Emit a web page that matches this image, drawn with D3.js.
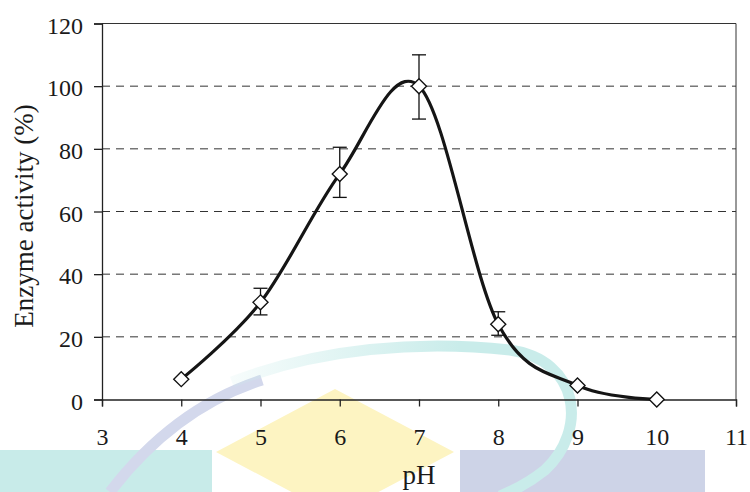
<!DOCTYPE html>
<html>
<head>
<meta charset="utf-8">
<script src="https://cdn.jsdelivr.net/npm/d3@7"></script>
<style>
  body { margin: 0; background: #fff; }
  svg text { font-family: "Liberation Serif", "Times New Roman", serif; fill: #1a1a1a; }
</style>
</head>
<body>
<div class="board"></div>
<script>
// chart data
const phValues = [4, 5, 6, 7, 8, 9, 10];
const activity = [6.5, 31, 72, 100, 24, 4.5, 0];
const errLow  = [null, 27, 64.5, 89.5, 20.5, null, null];
const errHigh = [null, 35.5, 80.5, 110, 28, null, null];
const xTicks = [3, 4, 5, 6, 7, 8, 9, 10, 11];
const yTicks = [0, 20, 40, 60, 80, 100, 120];

const width = 750;
const height = 492;

const svg = d3.select(".board")
  .append("svg")
  .attr("width", width)
  .attr("height", height);

// faint logo watermark behind the chart
const defs = svg.append("defs");
const tealGrad = defs.append("linearGradient")
  .attr("id", "tealFade")
  .attr("gradientUnits", "userSpaceOnUse")
  .attr("x1", 230).attr("y1", 0).attr("x2", 460).attr("y2", 0);
tealGrad.append("stop").attr("offset", 0).attr("stop-color", "#c9ecea").attr("stop-opacity", 0.15);
tealGrad.append("stop").attr("offset", 1).attr("stop-color", "#c9ecea").attr("stop-opacity", 1);

const wm = svg.append("g").attr("class", "watermark");
wm.append("rect").attr("x", 0).attr("y", 450).attr("width", 212).attr("height", 42).attr("fill", "#c8ebe9");
wm.append("rect").attr("x", 460).attr("y", 450).attr("width", 245).attr("height", 42).attr("fill", "#cdd3e7");
wm.append("path").attr("d", "M216,452 L335,389 L454,452 L335,515 Z").attr("fill", "#fdf4c2");
wm.append("path")
  .attr("d", "M110,492 C150,440 200,400 262,380")
  .attr("fill", "none").attr("stroke", "#d3d8ec").attr("stroke-width", 11);
wm.append("path")
  .attr("d", "M232,382 C320,348 420,340 510,350 C580,360 588,430 545,470 C530,482 515,490 500,496")
  .attr("fill", "none").attr("stroke", "url(#tealFade)").attr("stroke-width", 11);

const x = d3.scaleLinear().domain([3, 11]).range([102, 736]);
const y = d3.scaleLinear().domain([0, 120]).range([399.5, 23.5]);

// dashed gridlines
svg.append("g")
  .selectAll("line")
  .data(yTicks.filter(d => d > 0 && d < 120))
  .enter()
  .append("line")
  .attr("x1", x(3)).attr("x2", x(11))
  .attr("y1", d => y(d)).attr("y2", d => y(d))
  .attr("stroke", "#333")
  .attr("stroke-width", 1)
  .attr("stroke-dasharray", "8,6");

// top and right frame
svg.append("path")
  .attr("d", `M${x(3)},${y(120)} H${x(11)} V${y(0)}`)
  .attr("fill", "none")
  .attr("stroke", "#333")
  .attr("stroke-width", 1);

// axes
const xAxis = svg.append("g")
  .attr("transform", `translate(0,${y(0)})`)
  .call(d3.axisBottom(x).tickValues(xTicks).tickSize(7).tickPadding(21).tickFormat(d3.format("d")));
const yAxis = svg.append("g")
  .attr("transform", `translate(${x(3)},0)`)
  .call(d3.axisLeft(y).tickValues(yTicks).tickSize(8).tickPadding(11).tickFormat(d3.format("d")));

[xAxis, yAxis].forEach(function(a) {
  a.select(".domain").attr("stroke", "#222").attr("stroke-width", 1.3);
  a.selectAll(".tick line").attr("stroke", "#222").attr("stroke-width", 1.3);
  a.selectAll(".tick text").style("font-size", "24px").attr("fill", "#1a1a1a");
});
yAxis.selectAll(".tick text").attr("dy", "0.4em");

// axis titles
svg.append("text")
  .attr("x", (x(3) + x(11)) / 2)
  .attr("y", 484)
  .attr("text-anchor", "middle")
  .style("font-size", "27px")
  .text("pH");

svg.append("text")
  .attr("transform", "translate(33,216) rotate(-90)")
  .attr("text-anchor", "middle")
  .style("font-size", "27px")
  .text("Enzyme activity (%)");

// smoothed line
const points = phValues.map((p, i) => ({ p: p, v: activity[i], lo: errLow[i], hi: errHigh[i] }));

const line = d3.line()
  .x(d => x(d.p))
  .y(d => y(d.v))
  .curve(d3.curveCardinal.tension(0));

svg.append("path")
  .datum(points)
  .attr("d", line)
  .attr("fill", "none")
  .attr("stroke", "#151515")
  .attr("stroke-width", 3.2);

// error bars
const bars = svg.append("g")
  .selectAll("g")
  .data(points.filter(d => d.lo != null))
  .enter()
  .append("g")
  .attr("stroke", "#111")
  .attr("stroke-width", 1.3);
bars.append("line")
  .attr("x1", d => x(d.p)).attr("x2", d => x(d.p))
  .attr("y1", d => y(d.lo)).attr("y2", d => y(d.hi));
bars.append("line")
  .attr("x1", d => x(d.p) - 7).attr("x2", d => x(d.p) + 7)
  .attr("y1", d => y(d.lo)).attr("y2", d => y(d.lo));
bars.append("line")
  .attr("x1", d => x(d.p) - 7).attr("x2", d => x(d.p) + 7)
  .attr("y1", d => y(d.hi)).attr("y2", d => y(d.hi));

// diamond markers
svg.append("g")
  .selectAll("path")
  .data(points)
  .enter()
  .append("path")
  .attr("transform", d => `translate(${x(d.p)},${y(d.v)})`)
  .attr("d", "M0,-7.5 L7.5,0 L0,7.5 L-7.5,0 Z")
  .attr("fill", "#fff")
  .attr("stroke", "#111")
  .attr("stroke-width", 1.4);
</script>
</body>
</html>
